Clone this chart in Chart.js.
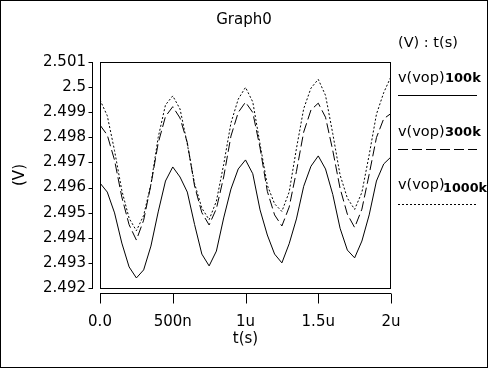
<!DOCTYPE html>
<html>
<head>
<meta charset="utf-8">
<script src="https://cdn.jsdelivr.net/npm/chart.js@4.4.1/dist/chart.umd.min.js"></script>
<style>
  html, body { margin: 0; padding: 0; background: #fff; }
  #wrap { width: 488px; height: 368px; }
</style>
</head>
<body>
<div id="wrap"><canvas id="graph0" width="488" height="368"></canvas></div>
<script>
// time in microseconds
const timeUs = [0, 0.05, 0.1, 0.15, 0.2, 0.25, 0.3, 0.35, 0.4, 0.45, 0.5, 0.55, 0.6, 0.65, 0.7, 0.75, 0.8, 0.85, 0.9, 0.95,
  1, 1.05, 1.1, 1.15, 1.2, 1.25, 1.3, 1.35, 1.4, 1.45, 1.5, 1.55, 1.6, 1.65, 1.7, 1.75, 1.8, 1.85, 1.9, 1.95, 2];

const vop100k = [2.49618, 2.49582, 2.49499, 2.49379, 2.49284, 2.49240, 2.49272, 2.49367, 2.49503, 2.49626,
  2.49682, 2.49642, 2.49582, 2.49453, 2.49335, 2.49288, 2.49347, 2.49479, 2.49594, 2.49674,
  2.49710, 2.49655, 2.49511, 2.49411, 2.49335, 2.49300, 2.49376, 2.49475, 2.49605, 2.49685,
  2.49726, 2.49674, 2.49572, 2.49438, 2.49351, 2.49320, 2.49387, 2.49491, 2.49626, 2.49694, 2.49722];

const vop300k = [2.49849, 2.49809, 2.49709, 2.49562, 2.49452, 2.49391, 2.49470, 2.49611, 2.49777, 2.49883,
  2.49922, 2.49877, 2.49779, 2.49606, 2.49500, 2.49451, 2.49516, 2.49642, 2.49805, 2.49899,
  2.49940, 2.49899, 2.49758, 2.49585, 2.49491, 2.49447, 2.49522, 2.49664, 2.49821, 2.49909,
  2.49936, 2.49880, 2.49747, 2.49597, 2.49494, 2.49441, 2.49514, 2.49653, 2.49799, 2.49874, 2.49895];

const vop1000k = [2.49949, 2.49886, 2.49747, 2.49588, 2.49478, 2.49428, 2.49489, 2.49613, 2.49800, 2.49929,
  2.49965, 2.49913, 2.49773, 2.49616, 2.49518, 2.49472, 2.49546, 2.49692, 2.49857, 2.49952,
  2.49999, 2.49941, 2.49773, 2.49609, 2.49535, 2.49505, 2.49582, 2.49755, 2.49914, 2.49996,
  2.50031, 2.49967, 2.49814, 2.49650, 2.49558, 2.49513, 2.49581, 2.49730, 2.49892, 2.49978, 2.50042];

const seriesNames = ["100k", "300k", "1000k"];
const xTickValues = [0, 0.5, 1, 1.5, 2];
const xTickLabels = ["0.0", "500n", "1u", "1.5u", "2u"];
const yTickValues = [2.492, 2.493, 2.494, 2.495, 2.496, 2.497, 2.498, 2.499, 2.5, 2.501];
const yTickLabels = ["2.492", "2.493", "2.494", "2.495", "2.496", "2.497", "2.498", "2.499", "2.5", "2.501"];

const FONT = "DejaVu Sans";
const dashes = [[], [10, 4], [2, 2]];

function toPoints(values) {
  return timeUs.map((t, i) => ({ x: t, y: values[i] }));
}

// box, detached axes, outer border, title and the legend on the right
const framePlugin = {
  id: "frame",
  afterDraw(chart) {
    const { ctx, chartArea: a, scales } = chart;
    ctx.save();
    ctx.strokeStyle = "#000";
    ctx.lineWidth = 1;

    ctx.strokeRect(0.5, 0.5, chart.width - 1, chart.height - 1);
    ctx.strokeRect(a.left + 0.5, a.top + 0.5, a.right - a.left - 1, a.bottom - a.top);

    // y axis line, a few px left of the box
    const ax = a.left - 7.5;
    ctx.beginPath();
    ctx.moveTo(ax, a.top);
    ctx.lineTo(ax, a.bottom + 1);
    scales.y.ticks.forEach((t) => {
      const py = Math.round(scales.y.getPixelForValue(t.value)) + 0.5;
      ctx.moveTo(ax - 4, py);
      ctx.lineTo(ax, py);
    });
    // x axis line, under the box
    const ay = a.bottom + 5.5;
    ctx.moveTo(a.left, ay);
    ctx.lineTo(a.right, ay);
    scales.x.ticks.forEach((t) => {
      const px = Math.round(scales.x.getPixelForValue(t.value)) + 0.5;
      ctx.moveTo(px, ay);
      ctx.lineTo(px, ay + 10);
    });
    ctx.stroke();

    ctx.fillStyle = "#000";
    // title, centred on the whole picture
    ctx.font = "15px '" + FONT + "'";
    ctx.textAlign = "center";
    ctx.textBaseline = "middle";
    ctx.fillText("Graph0", chart.width / 2, 20);

    // legend
    ctx.textAlign = "left";
    ctx.textBaseline = "alphabetic";
    ctx.font = "14.5px '" + FONT + "'";
    ctx.fillText("(V) : t(s)", 398, 47);
    const textY = [81.5, 135.5, 188.5];
    const lineY = [95.5, 149.5, 204.5];
    seriesNames.forEach((name, i) => {
      ctx.font = "14.5px '" + FONT + "'";
      ctx.fillText("v(vop)", 398, textY[i]);
      ctx.font = "bold 13px '" + FONT + "'";
      if (i === 2) {
        ctx.fillText(name, 443, textY[i] + 3, 44);
      } else {
        ctx.fillText(name, 445, textY[i]);
      }
      ctx.setLineDash(dashes[i]);
      ctx.beginPath();
      ctx.moveTo(398, lineY[i]);
      ctx.lineTo(477, lineY[i]);
      ctx.stroke();
    });
    ctx.restore();
  }
};

new Chart(document.querySelector("#graph0"), {
  type: "line",
  data: {
    datasets: [vop100k, vop300k, vop1000k].map((vals, i) => ({
      label: "v(vop)" + seriesNames[i],
      data: toPoints(vals),
      borderColor: "#000",
      borderWidth: 1,
      borderDash: dashes[i],
      pointRadius: 0,
      tension: 0,
      fill: false,
    })),
  },
  options: {
    responsive: false,
    animation: false,
    devicePixelRatio: 1,
    layout: { padding: { left: 0, right: 97, top: 62, bottom: 0 } },
    plugins: {
      legend: { display: false },
      tooltip: { enabled: false },
      title: { display: false },
    },
    scales: {
      x: {
        type: "linear",
        min: 0,
        max: 2,
        afterBuildTicks: (scale) => {
          scale.ticks = xTickValues.map((v) => ({ value: v }));
        },
        afterFit: (scale) => {
          scale.height = 80;
        },
        ticks: {
          callback: (v, i) => xTickLabels[i],
          color: "#000",
          font: { family: FONT, size: 15 },
          padding: 25,
          maxRotation: 0,
          autoSkip: false,
        },
        grid: { display: false, drawTicks: false },
        border: { display: false },
        title: {
          display: true,
          text: "t(s)",
          color: "#000",
          font: { family: FONT, size: 15 },
          padding: { top: 0, bottom: 20 },
        },
      },
      y: {
        type: "linear",
        min: 2.492,
        max: 2.501,
        afterBuildTicks: (scale) => {
          scale.ticks = yTickValues.map((v) => ({ value: v }));
        },
        afterFit: (scale) => {
          scale.width = 100;
        },
        ticks: {
          callback: (v, i) => yTickLabels[i],
          color: "#000",
          font: { family: FONT, size: 15 },
          padding: 14,
          autoSkip: false,
        },
        grid: { display: false, drawTicks: false },
        border: { display: false },
        title: {
          display: true,
          text: "(V)",
          color: "#000",
          font: { family: FONT, size: 15 },
          padding: { top: 11, bottom: 0 },
        },
      },
    },
  },
  plugins: [framePlugin],
});
</script>
</body>
</html>
